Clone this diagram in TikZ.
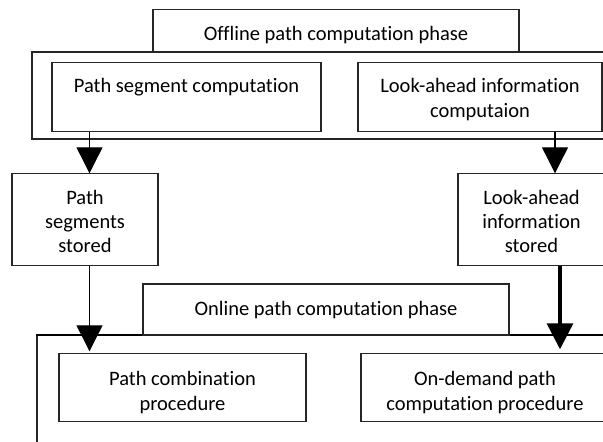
\documentclass[tikz,border=0pt]{standalone}
\usepackage{fontspec}
\setmainfont[Ligatures=NoCommon]{Carlito}
\usetikzlibrary{arrows.meta,calc}
\begin{document}
\begin{tikzpicture}[x=1pt,y=-1pt,
  box/.style={draw=black!85, line width=1.1pt, rectangle, inner sep=0pt,
    outer sep=0pt, anchor=north west},
  % labels are anchored at the baseline of their last line
  lbl/.style={inner sep=0pt, outer sep=0pt, align=center, anchor=base,
    font=\fontsize{20.5}{25}\selectfont},
  arr/.style={draw=black, line width=1.1pt, -{Triangle[length=26pt,width=26pt]}},
  heavyarr/.style={draw=black, line width=3.2pt, -{Triangle[length=26pt,width=26pt]}},
]
\useasboundingbox (0,0) rectangle (603,442);
\clip (0,0) rectangle (603,442);

% offline phase
\node[box, minimum width=618pt, minimum height=87pt] (offouter) at (32,52) {};
\node[box, minimum width=366pt, minimum height=42pt] (offtitle) at (153,9.5) {};
\node[lbl] (offtitle-t) at (offtitle.center |- 0,40.7) {Offline path computation phase};
\node[box, minimum width=269pt, minimum height=69pt] (pseg) at (52,62.5) {};
\node[lbl] (pseg-t) at (pseg.center |- 0,92.3) {Path segment computation};
\node[box, minimum width=244pt, minimum height=69pt] (lacomp) at (358,62.5) {};
\node[lbl] (lacomp-t) at (lacomp.center |- 0,117.3) {Look-ahead information\\computaion};

% stored results
\node[box, minimum width=146pt, minimum height=92.5pt] (psstored) at (12,173.3) {};
\node[lbl, font=\fontsize{20.5}{24}\selectfont] (psstored-t) at (psstored.center |- 0,252.3)
  {Path\\segments\\stored};
\node[box, minimum width=147pt, minimum height=92.5pt] (lastored) at (458,173.3) {};
\node[lbl, font=\fontsize{20.5}{24}\selectfont] (lastored-t) at (lastored.center |- 0,252.3)
  {Look-ahead\\information\\stored};

% online phase
\node[box, minimum width=620pt, minimum height=150pt] (onouter) at (37,335) {};
\draw[line width=2.6pt] ([xshift=-1.5pt]onouter.north west) -- (onouter.north east);
\node[box, minimum width=366pt, minimum height=51pt] (ontitle) at (143,284) {};
\node[lbl] (ontitle-t) at (ontitle.center |- 0,315) {Online path computation phase};
\node[box, minimum width=247pt, minimum height=68.5pt] (pcomb) at (59,353.3) {};
\node[lbl, font=\fontsize{20.5}{25.7}\selectfont] (pcomb-t) at (pcomb.center |- 0,410.7)
  {Path combination\\procedure};
\node[box, minimum width=248pt, minimum height=68.5pt] (ondemand) at (361,353.3) {};
\node[lbl, font=\fontsize{20.5}{25.7}\selectfont] (ondemand-t) at (ondemand.center |- 0,410.7)
  {On-demand path\\computation procedure};

% connector columns
\coordinate (xl) at (89.5,0);
\coordinate (xr) at (555,0);
\coordinate (xrr) at (560,0);

\draw[arr] (pseg.south -| xl) -- (psstored.north -| xl);
\draw[arr] (lacomp.south -| xr) -- (lastored.north -| xr);
\draw[arr] (psstored.south -| xl) -- ([yshift=2pt]pcomb.north -| xl);
\draw[heavyarr] (lastored.south -| xrr) -- ([yshift=4pt]ondemand.north -| xrr);
\end{tikzpicture}
\end{document}
